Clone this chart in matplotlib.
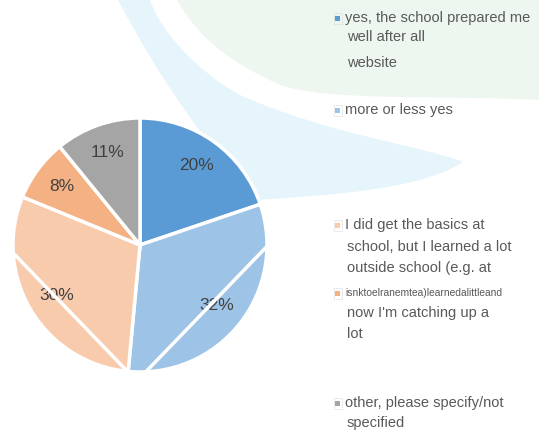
import matplotlib.pyplot as plt
import numpy as np
from matplotlib.path import Path
from matplotlib.patches import PathPatch

# pie data (percent labels as shown)
shares = [20, 32, 30, 8, 11]
colors = ['#5B9BD5', '#9DC3E6', '#F8CBAD', '#F4B183', '#A5A5A5']

# legend text, one list of lines per category
legend_lines = [
    ['yes, the school prepared me', 'well after all', 'website'],
    ['more or less yes'],
    ['I did get the basics at', 'school, but I learned a lot', 'outside school (e.g. at'],
    ['isnktoelranemtea)learnedalittleand', "now I'm catching up a", 'lot'],
    ['other, please specify/not', 'specified'],
]
# which color each legend marker uses (index into colors)
legend_color_idx = [0, 1, 2, 3, 4]

W, H = 539, 432
plt.rcParams['font.family'] = ['Liberation Sans', 'DejaVu Sans']
fig = plt.figure(figsize=(W / 100, H / 100), dpi=100)
fig.patch.set_facecolor('white')


def px(x, y):
    return (x / W, 1 - y / H)


def blob(pts, color):
    verts = [px(*p) for p in pts]
    codes = [Path.MOVETO] + [Path.CURVE4] * (len(verts) - 1)
    patch = PathPatch(Path(verts, codes), facecolor=color, edgecolor='none',
                      transform=fig.transFigure, zorder=-5)
    fig.patches.append(patch)


# faint watermark shapes in the background
blob([(177, 0), (200, 40), (230, 62), (280, 85),
      (330, 102), (450, 95), (539, 100),
      (539, 60), (539, 30), (539, 0),
      (400, 0), (260, 0), (177, 0)], '#EEF7EF')
blob([(118, 0), (160, 80), (210, 150), (257, 200),
      (330, 195), (420, 190), (463, 162),
      (420, 145), (330, 135), (240, 95),
      (195, 70), (160, 30), (150, 0)], '#E5F5FB')

# pie
r_px = 127
cx, cy = 140, 245
side = 2.2 * r_px
ax = fig.add_axes([(cx - side / 2) / W, (H - cy - side / 2) / H, side / W, side / H])

wedges, texts, autotexts = ax.pie(
    shares, colors=colors, startangle=90, counterclock=False,
    autopct='%.0f%%', pctdistance=0.77, radius=1.0,
    wedgeprops=dict(edgecolor='white', linewidth=2.5),
    textprops=dict(color='#404040', fontsize=12.5))

# white cut lines through the two big slices
for a1, a2 in [(0, -88), (183, 265)]:
    t = np.radians([a1, a2])
    ax.plot(np.cos(t) * 1.01, np.sin(t) * 1.01, color='white', lw=2.5, zorder=5)

ax.set_xlim(-1.1, 1.1)
ax.set_ylim(-1.1, 1.1)
ax.set_aspect('equal')
ax.axis('off')

# legend drawn in pixel space
lax = fig.add_axes([0, 0, 1, 1])
lax.set_xlim(0, W)
lax.set_ylim(H, 0)
lax.axis('off')

marker_y = [18, 110, 225, 293, 403]
line_y = [[18, 37, 63], [110], [225, 247, 268], [293, 313, 334], [403, 423]]
text_col = '#595959'
for i, lines in enumerate(legend_lines):
    my = marker_y[i]
    lax.add_patch(plt.Rectangle((333.5, my - 5.5), 8, 11, fill=False,
                                edgecolor='#D0D0D0', lw=0.6, ls=(0, (1, 1))))
    lax.add_patch(plt.Rectangle((335.3, my - 2.5), 4.5, 5,
                                color=colors[legend_color_idx[i]], lw=0))
    for j, line in enumerate(lines):
        x = 345 if j == 0 else 347
        size = 7.4 if (i == 3 and j == 0) else 10.5
        lax.text(x, line_y[i][j], line, fontsize=size, color=text_col,
                 va='center', ha='left')

fig.savefig('out.png', dpi=100)
